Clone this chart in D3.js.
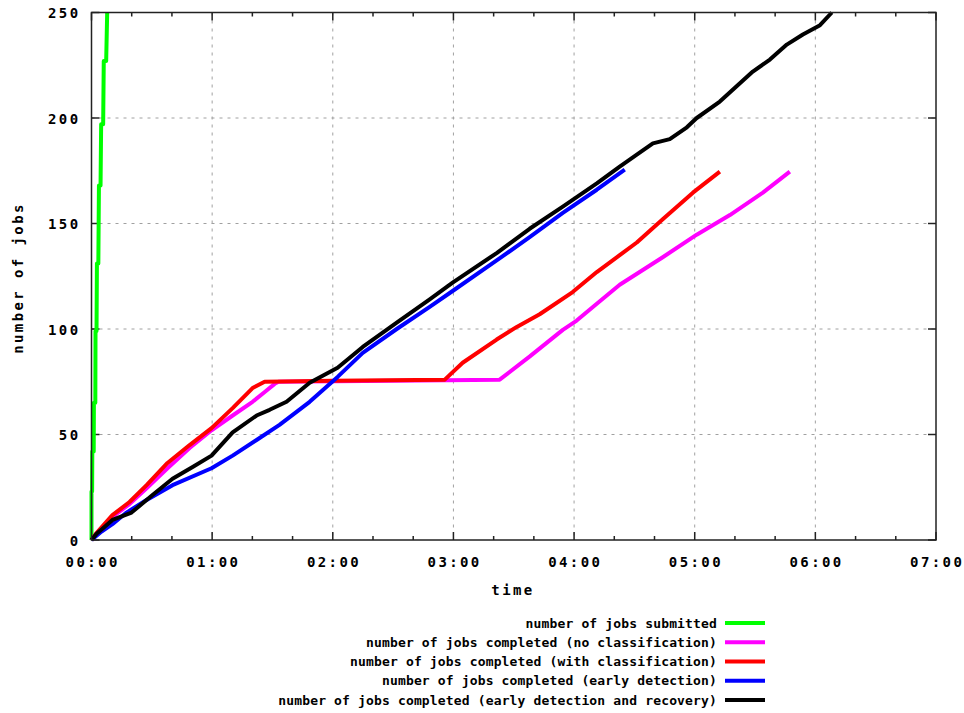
<!DOCTYPE html>
<html>
<head>
<meta charset="utf-8">
<script src="https://cdn.jsdelivr.net/npm/d3@7"></script>
<style>
  body { margin: 0; background: #fff; }
  text { font-family: "DejaVu Sans Mono", monospace; font-weight: bold; fill: #000; }
</style>
</head>
<body>
<div id="chart"></div>
<script>
// values: [minutes since start, number of jobs]
const submitted = [[0,0],[0,23],[0.3,23],[0.4,42],[1.1,42],[1.2,65],[1.9,65],[2.0,99],[2.5,99],[2.7,131],
  [3.4,131],[3.7,168],[4.5,168],[4.8,197],[5.8,197],[6.1,227],[7.3,227],[7.8,250]];
const noClass = [[0,0],[2.5,3],[5,5.5],[10.4,11],[18.9,17],[27.4,24.5],[37.8,34],[48.8,43.6],[59.7,52],
  [70.2,59],[80.1,65.5],[86,70],[91.1,74],[93,75],[150,75.5],[203,76],[218,87],[234.4,99.6],[241.3,104],
  [251.3,112],[262.7,121],[284.1,134],[301,144.7],[317.5,154],[333.9,164.6],[347.3,174.6]];
const withClass = [[0,0],[2.5,3.3],[5,6],[10.4,11.8],[18.9,18],[27.4,26],[37.8,36.5],[48.8,45],[59.7,53],
  [70.2,62.5],[80.1,72],[86.1,75],[120,75.5],[175.7,76],[184.6,84],[201.5,95],[211.5,101],[222.9,107],
  [239.3,117.5],[251.3,127],[262.7,135],[271.2,141],[284.1,152],[299.1,164.6],[312.5,174.6]];
const earlyDet = [[0,0],[2.5,2],[5,4],[10.4,7.5],[17.4,13],[27.4,19],[40.3,26],[59.7,34],[70.2,40],
  [82.1,47.4],[93.5,54.6],[108.5,65.5],[122.4,77.3],[134.9,88.7],[151.8,100],[168.2,110.5],[179.6,118],
  [201.5,132.5],[217.9,143.5],[234.4,155],[251.3,166],[265.2,175.5]];
const earlyRec = [[0,0],[2.5,3],[5,5],[10.4,9.5],[19.9,13],[29.9,21],[40.3,29],[50.3,34.6],[59.7,40],
  [70.2,51],[82.1,59],[88.6,61.7],[97,65.5],[108.5,74.5],[122.4,81.6],[134.9,91.5],[151.8,103],
  [168.2,114],[179.6,122],[201.5,136],[217.9,147.5],[234.4,158],[251.3,169],[262.7,177],[271.2,182.6],
  [279.2,188],[287.6,190],[296.1,195.6],[301,200],[312.5,207.8],[328.9,222],[337.4,227.7],[345.8,234.8],
  [353.8,239.6],[362.3,244],[368.2,250]];

const seriesNames = ["number of jobs submitted",
  "number of jobs completed (no classification)",
  "number of jobs completed (with classification)",
  "number of jobs completed (early detection)",
  "number of jobs completed (early detection and recovery)"];
const seriesColors = ["#00ff00", "#ff00ff", "#ff0000", "#0000ff", "#000000"];
const seriesData = [submitted, noClass, withClass, earlyDet, earlyRec];

const xMajor = d3.range(0, 421, 60);
const xMinor = d3.range(0, 421, 20);
const yTicks = [0, 50, 100, 150, 200, 250];

const W = 964, H = 713;
const plot = { left: 91.5, right: 936, top: 12.5, bottom: 540 };

const svg = d3.select("#chart").append("svg")
  .attr("width", W).attr("height", H);

const x = d3.scaleLinear().domain([0, 420]).range([plot.left, plot.right]);
const y = d3.scaleLinear().domain([0, 250]).range([plot.bottom, plot.top]);

const fmt = m => d3.format("02d")(Math.floor(m / 60)) + ":" + d3.format("02d")(m % 60);

// grid
svg.append("g").selectAll("line")
  .data(xMajor.filter(d => d > 0 && d < 420)).enter().append("line")
  .attr("x1", d => x(d)).attr("x2", d => x(d))
  .attr("y1", plot.top).attr("y2", plot.bottom)
  .attr("stroke", "#a0a0a0").attr("stroke-dasharray", "3,5");
svg.append("g").selectAll("line")
  .data(yTicks.filter(d => d > 0 && d < 250)).enter().append("line")
  .attr("x1", plot.left).attr("x2", plot.right)
  .attr("y1", d => y(d)).attr("y2", d => y(d))
  .attr("stroke", "#a0a0a0").attr("stroke-dasharray", "3,5");

// ticks, inward like gnuplot, mirrored
const tk = svg.append("g").attr("stroke", "#222").attr("stroke-width", 1.5);
xMinor.forEach(d => {
  const len = xMajor.includes(d) ? 8 : 4;
  tk.append("line").attr("x1", x(d)).attr("x2", x(d)).attr("y1", plot.bottom).attr("y2", plot.bottom - len);
  tk.append("line").attr("x1", x(d)).attr("x2", x(d)).attr("y1", plot.top).attr("y2", plot.top + len);
});
yTicks.forEach(d => {
  tk.append("line").attr("x1", plot.left).attr("x2", plot.left + 8).attr("y1", y(d)).attr("y2", y(d));
  tk.append("line").attr("x1", plot.right).attr("x2", plot.right - 8).attr("y1", y(d)).attr("y2", y(d));
});

// tick labels
svg.append("g").selectAll("text").data(xMajor).enter().append("text")
  .attr("x", d => x(d) + 1.2).attr("y", 567)
  .attr("text-anchor", "middle")
  .style("font-size", "14px").style("letter-spacing", "2.4px")
  .text(fmt);
svg.append("g").selectAll("text").data(yTicks).enter().append("text")
  .attr("x", 80.5).attr("y", d => y(d) + 5.5)
  .attr("text-anchor", "end")
  .style("font-size", "14px").style("letter-spacing", "2.4px")
  .text(d => d);

// axis titles
svg.append("text").attr("x", 513).attr("y", 595).attr("text-anchor", "middle")
  .style("font-size", "14px").style("letter-spacing", "2.4px").text("time");
svg.append("text").attr("transform", "translate(23,278) rotate(-90)").attr("text-anchor", "middle")
  .style("font-size", "14px").style("letter-spacing", "2.4px").text("number of jobs");

// curves
const line = d3.line().x(d => x(d[0])).y(d => y(d[1]));
const curves = svg.append("g");
seriesData.forEach((s, i) => {
  curves.append("path").datum(s)
    .attr("d", line)
    .attr("fill", "none")
    .attr("stroke", seriesColors[i])
    .attr("stroke-width", 4)
    .attr("stroke-linejoin", "round");
});

// border
svg.append("rect")
  .attr("x", plot.left).attr("y", plot.top)
  .attr("width", plot.right - plot.left).attr("height", plot.bottom - plot.top)
  .attr("fill", "none").attr("stroke", "#222").attr("stroke-width", 1.5);

// legend
const leg = svg.append("g");
seriesNames.forEach((n, i) => {
  const ly = 623 + i * 19.25;
  leg.append("text").attr("x", 717).attr("y", ly + 4.5).attr("text-anchor", "end")
    .style("font-size", "13px").style("letter-spacing", "0.15px").text(n);
  leg.append("line").attr("x1", 725).attr("x2", 765).attr("y1", ly).attr("y2", ly)
    .attr("stroke", seriesColors[i]).attr("stroke-width", 4);
});
</script>
</body>
</html>
